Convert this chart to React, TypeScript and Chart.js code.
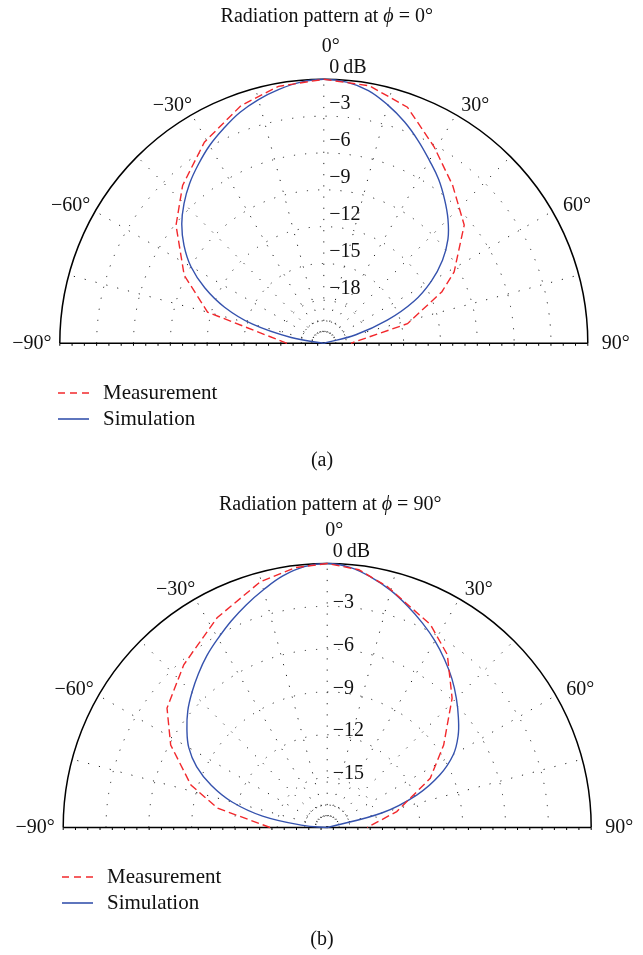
import React, { useEffect, useRef } from "react";
import { Chart, registerables } from "chart.js";
Chart.register(...registerables);

// ---------- Panel (a): phi = 0 deg ----------
const simAngleA = [-90, -83, -80, -75, -70, -65, -60, -55, -50, -45, -40, -35, -30, -25, -20, -15, -10, -5, 0, 5, 10, 15, 20, 25, 30, 35, 40, 45, 50, 55, 60, 65, 70, 75, 80, 90];
const simDbA = [-21.5, -21.5, -18.8, -15.5, -12.9, -10.8, -9.0, -7.6, -6.4, -5.4, -4.5, -3.7, -2.9, -2.2, -1.5, -0.95, -0.5, -0.15, 0, -0.15, -0.6, -1.4, -2.3, -3.3, -4.3, -5.2, -6.2, -7.2, -8.3, -9.7, -11.4, -13.4, -16.0, -18.8, -21.5, -21.5];
const measAngleA = [-90, -75, -64, -51.4, -41.8, -30.7, -19.2, -10, 0, 10, 19.5, 29.3, 39.2, 49.9, 61.3, 66.4, 76.8, 90];
const measDbA = [-18.5, -11.7, -8.85, -6.1, -4.25, -2.45, -1.0, -0.25, 0, -0.2, -1.1, -3.15, -4.9, -6.55, -9.4, -11.0, -14.5, -19.3];
const dbTicksA = [0, -3, -6, -9, -12, -15, -18];
const dbMinA = -21.5;

// ---------- Panel (b): phi = 90 deg ----------
const simAngleB = [-90, -88, -85, -80, -75, -70, -65, -60, -55, -50, -45, -40, -35, -30, -25, -20, -15, -10, -5, 0, 5, 10, 15, 20, 25, 30, 35, 40, 45, 50, 55, 60, 65, 70, 75, 80, 90];
const simDbB = [-18.5, -18.5, -16.8, -13.9, -11.6, -9.85, -8.4, -7.3, -6.5, -5.75, -5.1, -4.45, -3.8, -3.2, -2.55, -1.9, -1.25, -0.6, -0.15, 0, -0.2, -0.7, -1.3, -2.0, -2.7, -3.4, -4.15, -4.9, -5.7, -6.5, -7.3, -8.3, -9.8, -11.8, -14.5, -18.5, -18.5];
const measAngleB = [-90, -80, -72.7, -62.2, -53.3, -41.4, -27.7, -15.2, -7, 0, 7, 14, 27, 34.8, 44, 54.7, 64.5, 77.1, 90];
const measDbB = [-14.5, -10.7, -8.5, -6.1, -4.5, -3.3, -1.9, -0.65, -0.15, 0, -0.3, -1.1, -2.55, -3.75, -5.9, -8.5, -10.5, -13.5, -15.7];
const dbTicksB = [0, -3, -6, -9, -12, -15];
const dbMinB = -18.5;

// ---------- shared ----------
const angleTicks = [-90, -60, -30, 0, 30, 60, 90];
const seriesNames = ["Measurement", "Simulation"];
const titleA = "0°";
const titleB = "90°";

const FONT = '"Liberation Serif", "DejaVu Serif", serif';
const RED = "#f2282c";
const BLUE = "#3552ad";

function toXY(angles: number[], dbs: number[], min: number) {
  return angles.map((a, i) => {
    const r = Math.max(dbs[i], min) - min;
    const t = (a * Math.PI) / 180;
    return { x: r * Math.sin(t), y: r * Math.cos(t) };
  });
}

function fmtTick(a: number) {
  return (a < 0 ? "\u2212" + Math.abs(a) : String(a)) + "°";
}
function fmtDb(d: number) {
  return d === 0 ? "0\u2009dB" : "\u2212" + Math.abs(d);
}

const polarGrid = {
  id: "polarGrid",
  beforeDatasetsDraw(chart: any, _args: any, opts: any) {
    const { ctx } = chart;
    const xs = chart.scales.x;
    const ys = chart.scales.y;
    const R = -opts.min;
    const cx = xs.getPixelForValue(0);
    const cy = ys.getPixelForValue(0);
    const rp = xs.getPixelForValue(R) - cx;
    const sc = rp / R;
    ctx.save();
    ctx.strokeStyle = "#222";
    ctx.lineWidth = 1;
    // dotted rings
    ctx.setLineDash([1.2, 10]);
    for (const d of opts.dbTicks) {
      if (d === 0) continue;
      const r = (d - opts.min) * sc;
      ctx.beginPath();
      ctx.arc(cx, cy, r, Math.PI, 2 * Math.PI);
      ctx.stroke();
    }
    ctx.setLineDash([1.2, 3.5]);
    ctx.beginPath();
    ctx.arc(cx, cy, 22.5, Math.PI, 2 * Math.PI);
    ctx.stroke();
    ctx.setLineDash([1, 1.8]);
    ctx.beginPath();
    ctx.arc(cx, cy, 12, Math.PI, 2 * Math.PI);
    ctx.stroke();
    // dotted spokes
    ctx.setLineDash([1.2, 10]);
    for (let a = -75; a <= 75; a += 15) {
      const t = (a * Math.PI) / 180;
      ctx.beginPath();
      ctx.moveTo(cx, cy);
      ctx.lineTo(cx + rp * Math.sin(t), cy - rp * Math.cos(t));
      ctx.stroke();
    }
    // outer frame
    ctx.setLineDash([]);
    ctx.strokeStyle = "#000";
    ctx.lineWidth = 1.5;
    ctx.beginPath();
    ctx.arc(cx, cy, rp, Math.PI, 2 * Math.PI);
    ctx.stroke();
    ctx.beginPath();
    ctx.moveTo(cx - rp, cy);
    ctx.lineTo(cx + rp, cy);
    ctx.stroke();
    // small ticks on the base line
    ctx.lineWidth = 1;
    const n = Math.round((2 * rp) / 12.4);
    for (let i = 0; i <= n; i++) {
      const x = cx - rp + (2 * rp * i) / n;
      ctx.beginPath();
      ctx.moveTo(x, cy);
      ctx.lineTo(x, cy + 2.5);
      ctx.stroke();
    }
    ctx.restore();
  },
  afterDatasetsDraw(chart: any, _args: any, opts: any) {
    const { ctx } = chart;
    const xs = chart.scales.x;
    const ys = chart.scales.y;
    const R = -opts.min;
    const cx = xs.getPixelForValue(0);
    const cy = ys.getPixelForValue(0);
    const rp = xs.getPixelForValue(R) - cx;
    const sc = rp / R;
    ctx.save();
    ctx.fillStyle = "#111";
    ctx.font = `20px ${FONT}`;
    ctx.textBaseline = "middle";
    // dB labels
    ctx.textAlign = "left";
    for (const d of opts.dbTicks) {
      const r = (d - opts.min) * sc;
      const off = d === 0 ? 11.5 : opts.labelOff;
      ctx.fillText(fmtDb(d), cx + 5.5, cy - r - off);
    }
    // angle labels
    ctx.textAlign = "center";
    const place: Record<number, [number, number, number]> = {
      0: [0, 32, 7],
      30: [32.5, 18, 0],
      60: [61.5, 24, 0],
      90: [90, 28, 0],
    };
    for (const a of angleTicks) {
      const p = place[Math.abs(a)];
      const t = ((a < 0 ? -p[0] : p[0]) * Math.PI) / 180;
      const rr = rp + p[1];
      ctx.fillText(fmtTick(a), cx + rr * Math.sin(t) + p[2], cy - rr * Math.cos(t) - (a === 0 ? 1 : 0));
    }
    // title
    const p1 = "Radiation pattern at ";
    const p2 = "\u03D5";
    const p3 = " = " + opts.title;
    ctx.font = `20px ${FONT}`;
    const w1 = ctx.measureText(p1).width;
    const w3 = ctx.measureText(p3).width;
    ctx.font = `italic 20px ${FONT}`;
    const w2 = ctx.measureText(p2).width;
    let tx = cx + 3 - (w1 + w2 + w3) / 2;
    ctx.textAlign = "left";
    ctx.font = `20px ${FONT}`;
    ctx.fillText(p1, tx, opts.titleY);
    tx += w1;
    ctx.font = `italic 20px ${FONT}`;
    ctx.fillText(p2, tx, opts.titleY);
    tx += w2;
    ctx.font = `20px ${FONT}`;
    ctx.fillText(p3, tx, opts.titleY);
    // legend
    const ds = chart.data.datasets;
    ctx.font = `21px ${FONT}`;
    for (let i = 0; i < ds.length; i++) {
      const ly = opts.legendY + i * 26;
      ctx.strokeStyle = ds[i].borderColor;
      ctx.lineWidth = 1.6;
      ctx.setLineDash(ds[i].borderDash ? [7, 5] : []);
      ctx.beginPath();
      ctx.moveTo(opts.legendX, ly);
      ctx.lineTo(opts.legendX + 31, ly);
      ctx.stroke();
      ctx.setLineDash([]);
      ctx.fillStyle = "#111";
      ctx.fillText(ds[i].label, opts.legendX + 45, ly);
    }
    // caption
    ctx.font = `20px ${FONT}`;
    ctx.textAlign = "center";
    ctx.fillText(opts.caption, 322, opts.captionY);
    ctx.restore();
  },
};

type PanelCfg = {
  height: number;
  cx: number;
  cy: number;
  r: number;
  min: number;
  dbTicks: number[];
  simA: number[];
  simD: number[];
  measA: number[];
  measD: number[];
  title: string;
  titleY: number;
  labelOff: number;
  legendX: number;
  legendY: number;
  caption: string;
  captionY: number;
};

function PolarPanel({ cfg }: { cfg: PanelCfg }) {
  const ref = useRef<HTMLCanvasElement | null>(null);
  useEffect(() => {
    if (!ref.current) return;
    const R = -cfg.min;
    const chart = new Chart(ref.current, {
      type: "scatter",
      data: {
        datasets: [
          {
            label: seriesNames[0],
            data: toXY(cfg.measA, cfg.measD, cfg.min),
            showLine: true,
            borderColor: RED,
            borderWidth: 1.4,
            borderDash: [8, 4],
            pointRadius: 0,
            tension: 0,
            fill: false,
            clip: false,
          } as any,
          {
            label: seriesNames[1],
            data: toXY(cfg.simA, cfg.simD, cfg.min),
            showLine: true,
            borderColor: BLUE,
            borderWidth: 1.4,
            pointRadius: 0,
            tension: 0.4,
            fill: false,
            clip: false,
          } as any,
        ],
      },
      options: {
        responsive: false,
        maintainAspectRatio: false,
        animation: false,
        events: [],
        elements: { line: { capBezierPoints: false } },
        layout: {
          padding: {
            left: cfg.cx - cfg.r,
            right: 643 - (cfg.cx + cfg.r),
            top: cfg.cy - cfg.r,
            bottom: cfg.height - cfg.cy,
          },
        },
        scales: {
          x: { type: "linear", min: -R, max: R, display: false },
          y: { type: "linear", min: 0, max: R, display: false },
        },
        plugins: {
          legend: { display: false },
          tooltip: { enabled: false },
          polarGrid: {
            min: cfg.min,
            dbTicks: cfg.dbTicks,
            title: cfg.title,
            titleY: cfg.titleY,
            labelOff: cfg.labelOff,
            legendX: cfg.legendX,
            legendY: cfg.legendY,
            caption: cfg.caption,
            captionY: cfg.captionY,
          },
        } as any,
      },
      plugins: [polarGrid as any],
    });
    return () => chart.destroy();
  }, []);
  return (
    <canvas
      ref={ref}
      width={643}
      height={cfg.height}
      style={{ display: "block", width: 643, height: cfg.height }}
    />
  );
}

export default function App() {
  useEffect(() => {
    document.body.style.margin = "0";
    document.body.style.background = "#fff";
  }, []);
  const top: PanelCfg = {
    height: 478,
    cx: 323.8,
    cy: 343.3,
    r: 264,
    min: dbMinA,
    dbTicks: dbTicksA,
    simA: simAngleA,
    simD: simDbA,
    measA: measAngleA,
    measD: measDbA,
    title: titleA,
    titleY: 17,
    labelOff: 12,
    legendX: 58,
    legendY: 393,
    caption: "(a)",
    captionY: 461,
  };
  const bottom: PanelCfg = {
    height: 477,
    cx: 327.2,
    cy: 349.5,
    r: 264,
    min: dbMinB,
    dbTicks: dbTicksB,
    simA: simAngleB,
    simD: simDbB,
    measA: measAngleB,
    measD: measDbB,
    title: titleB,
    titleY: 27,
    labelOff: 3.5,
    legendX: 62,
    legendY: 399,
    caption: "(b)",
    captionY: 462,
  };
  return (
    <div style={{ position: "absolute", left: 0, top: 0, width: 643, background: "#fff" }}>
      <PolarPanel cfg={top} />
      <PolarPanel cfg={bottom} />
    </div>
  );
}
